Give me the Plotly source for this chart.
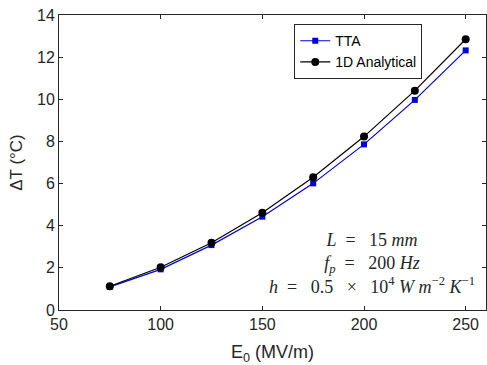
import plotly.graph_objects as go

E0 = [75, 100, 125, 150, 175, 200, 225, 250]
tta = [1.10, 1.93, 3.08, 4.43, 6.01, 7.86, 9.97, 12.32]
analytical = [1.13, 2.03, 3.19, 4.62, 6.30, 8.23, 10.41, 12.85]

fig = go.Figure()
fig.add_trace(go.Scatter(x=E0, y=tta, mode="lines+markers", name="TTA",
                         line=dict(color="#0000DD", width=1.2),
                         marker=dict(symbol="square", size=6, color="#0000DD")))
fig.add_trace(go.Scatter(x=E0, y=analytical, mode="lines+markers", name="1D Analytical",
                         line=dict(color="black", width=1.2),
                         marker=dict(symbol="circle", size=8, color="black")))

tickfont = dict(family="Liberation Sans, Arial", size=16, color="#262626")
axis_common = dict(showline=True, linecolor="#262626", linewidth=1, mirror="ticks",
                   ticks="inside", ticklen=4, tickcolor="#262626", showgrid=False,
                   zeroline=False, tickfont=tickfont, automargin=False)

fig.update_xaxes(range=[50, 260], tickvals=[50, 100, 150, 200, 250],
                 title=dict(text="E<sub>0</sub> (MV/m)", standoff=14,
                            font=dict(family="Liberation Sans, Arial", size=18, color="#262626")),
                 **axis_common)
fig.update_yaxes(range=[0, 14], tickvals=[0, 2, 4, 6, 8, 10, 12, 14],
                 title=dict(text="ΔT (°C)", standoff=10,
                            font=dict(family="Liberation Sans, Arial", size=17, color="#262626")),
                 **axis_common)

nb = "&nbsp;"
note = "<br>".join([
    f"<i>L</i>{nb*2}={nb*3}15{nb}<i>mm</i>",
    f"<i>f<sub>p</sub></i>{nb*2}={nb*3}200{nb}<i>Hz</i>",
    f"<i>h</i>{nb*2}={nb*3}0.5{nb*3}×{nb*3}10<sup>4</sup>{nb}<i>W</i>{nb}<i>m</i><sup>−2</sup>{nb}<i>K</i><sup>−1</sup>",
])
fig.add_annotation(xref="paper", yref="paper", x=0.732, y=0.159, xanchor="center", yanchor="middle",
                   showarrow=False, text=note, align="center",
                   font=dict(family="Liberation Serif, Times New Roman", size=18, color="#262626"))

fig.update_layout(width=487, height=365, margin=dict(l=59, r=1, t=15, b=55),
                  plot_bgcolor="white", paper_bgcolor="white",
                  legend=dict(x=0.551, y=0.969, xanchor="left", yanchor="top",
                              bgcolor="white", bordercolor="#262626", borderwidth=1,
                              font=dict(family="Liberation Sans, Arial", size=14, color="black"),
                              tracegroupgap=0, itemwidth=30))

fig.write_html("out.html", config={"displayModeBar": False},
               post_script="document.body.style.margin='0px';document.body.style.overflow='hidden';")
